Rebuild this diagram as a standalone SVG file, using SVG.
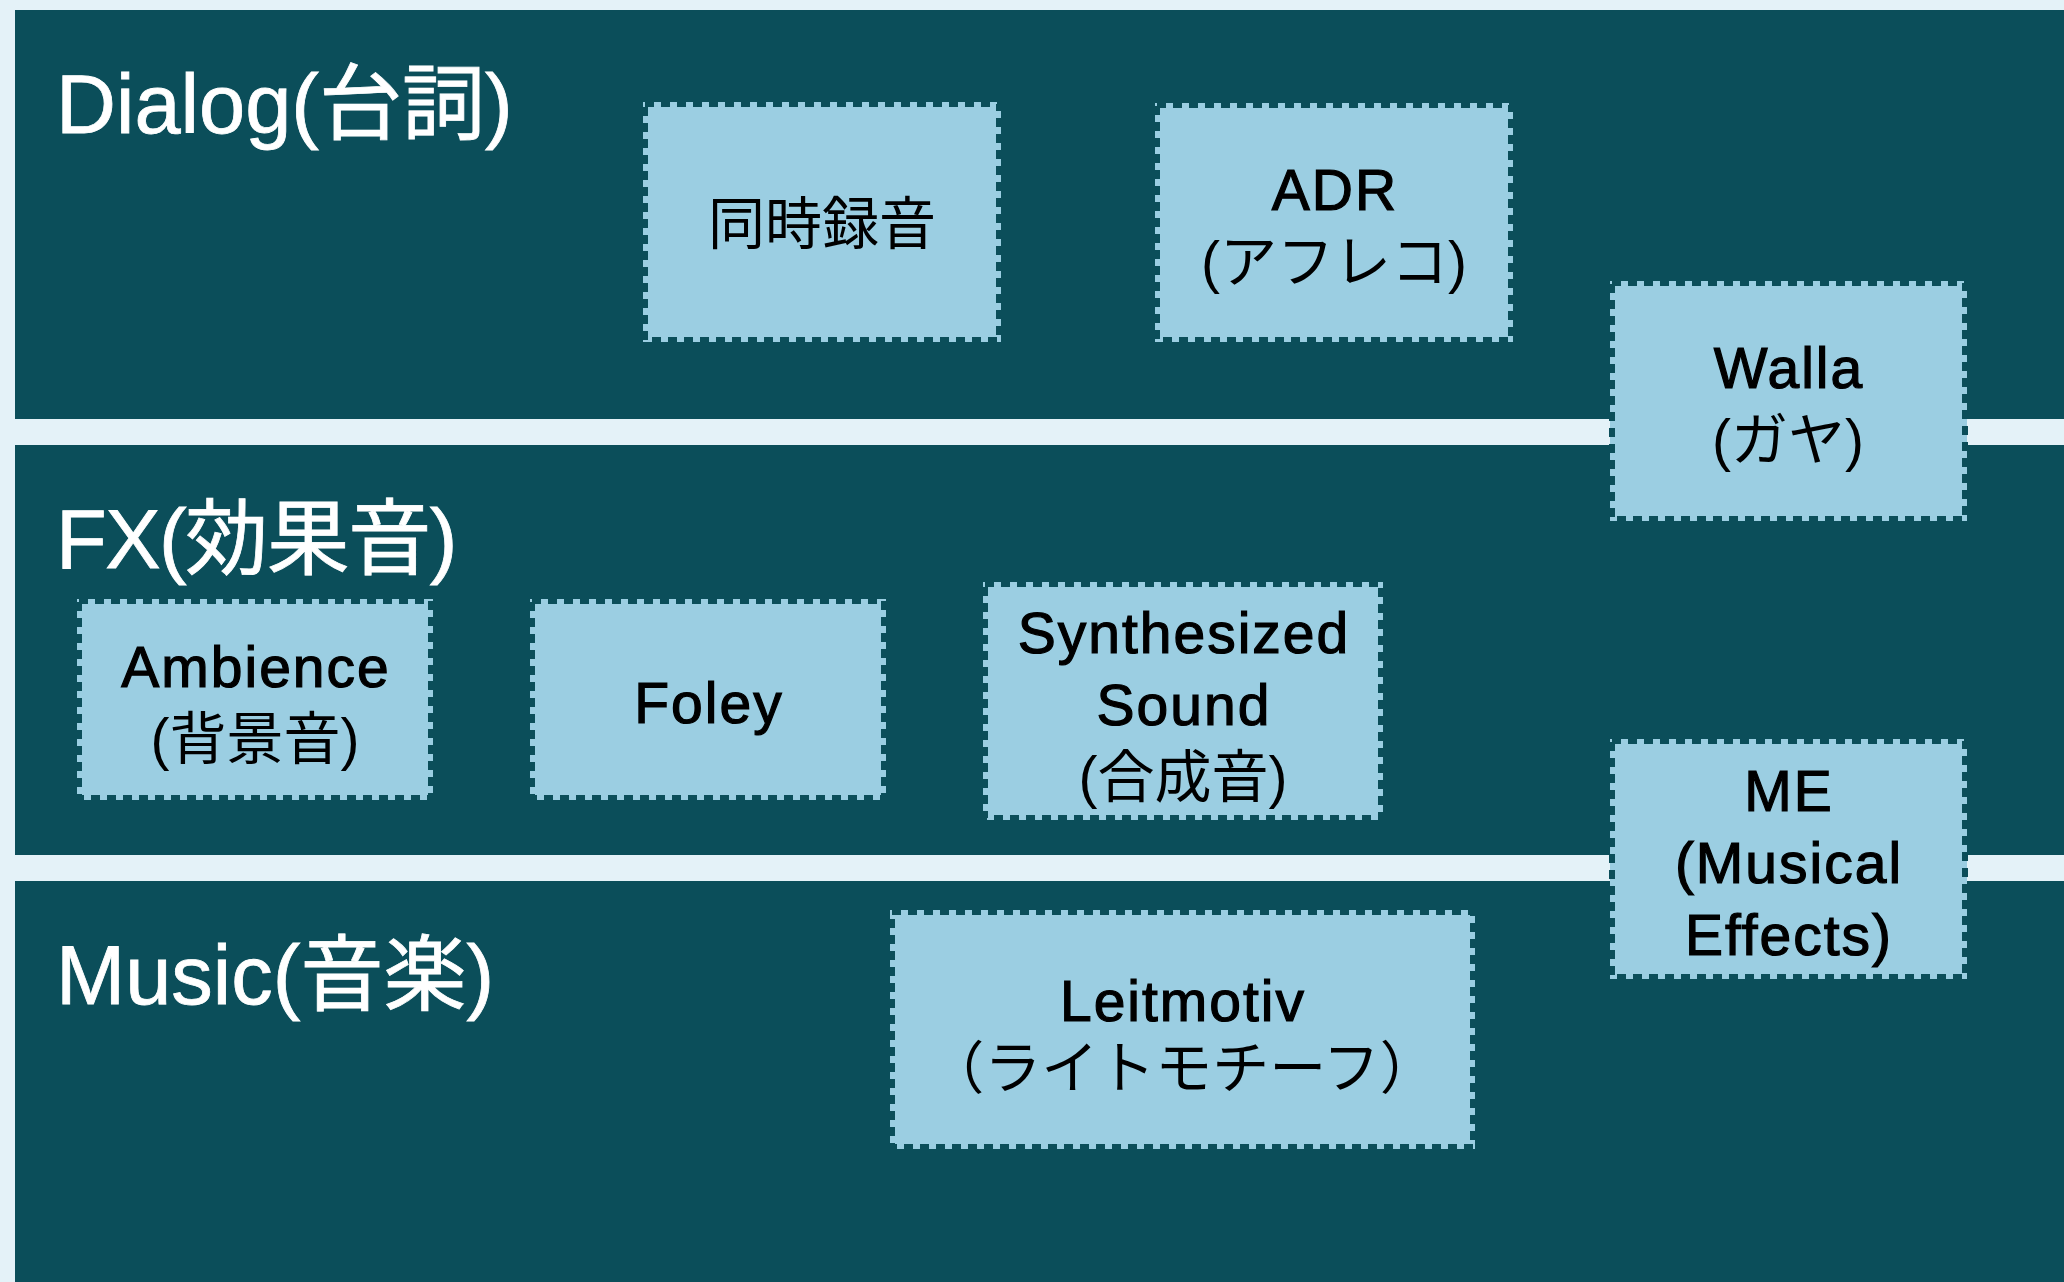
<svg xmlns="http://www.w3.org/2000/svg" width="2064" height="1282" viewBox="0 0 2064 1282">
  <style>
    .band { fill: #0b4e5a; }
    .title { font-family: "Liberation Sans", "Noto Sans CJK JP", sans-serif; font-size: 83px; fill: #ffffff; stroke: #ffffff; stroke-width: 0.8; }
    .fill { fill: #9bcee2; }
    .box { fill: none; stroke: #0b4e5a; stroke-width: 6; stroke-dasharray: 9 7; }
    .label { font-family: "Liberation Sans", "Noto Sans CJK JP", sans-serif; font-size: 57px; fill: #000000; text-anchor: middle; }
    .lat { stroke: #000000; stroke-width: 1.2; letter-spacing: 2px; }
  </style>
  <rect x="0" y="0" width="2064" height="1282" fill="#e4f2f8"/>
  <g id="lane-dialog">
    <rect class="band" x="15" y="10" width="2049" height="409"/>
    <text class="title" x="56" y="133">Dialog(台詞)</text>
  </g>
  <g id="lane-fx">
    <rect class="band" x="15" y="445" width="2049" height="410"/>
    <text class="title" x="56" y="568" letter-spacing="-1.5">FX(効果音)</text>
  </g>
  <g id="lane-music">
    <rect class="band" x="15" y="881" width="2049" height="401"/>
    <text class="title" x="56" y="1004">Music(音楽)</text>
  </g>
  <g id="connectors"></g>
  <g id="node-doujirokuon">
    <rect class="fill" x="643" y="102" width="358" height="240"/>
    <rect class="box" x="645" y="104" width="354" height="236"/>
    <text class="label" x="822" y="244">同時録音</text>
  </g>
  <g id="node-adr">
    <rect class="fill" x="1155" y="103" width="358" height="239"/>
    <rect class="box" x="1157" y="105" width="354" height="235"/>
    <text class="label lat" x="1335" y="210">ADR</text>
    <text class="label" x="1334" y="282">(アフレコ)</text>
  </g>
  <g id="node-walla">
    <rect class="fill" x="1610" y="281" width="357" height="240"/>
    <rect class="box" x="1612" y="283" width="353" height="236"/>
    <text class="label lat" x="1789" y="388">Walla</text>
    <text class="label" x="1788" y="460">(ガヤ)</text>
  </g>
  <g id="node-ambience">
    <rect class="fill" x="77" y="599" width="356" height="201"/>
    <rect class="box" x="79" y="601" width="352" height="197"/>
    <text class="label lat" x="256" y="687">Ambience</text>
    <text class="label" x="255" y="759">(背景音)</text>
  </g>
  <g id="node-foley">
    <rect class="fill" x="530" y="599" width="356" height="201"/>
    <rect class="box" x="532" y="601" width="352" height="197"/>
    <text class="label lat" x="709" y="723">Foley</text>
  </g>
  <g id="node-synth">
    <rect class="fill" x="983" y="582" width="400" height="238"/>
    <rect class="box" x="985" y="584" width="396" height="234"/>
    <text class="label lat" x="1184" y="653">Synthesized</text>
    <text class="label lat" x="1184" y="725">Sound</text>
    <text class="label" x="1183" y="797">(合成音)</text>
  </g>
  <g id="node-me">
    <rect class="fill" x="1610" y="739" width="357" height="240"/>
    <rect class="box" x="1612" y="741" width="353" height="236"/>
    <text class="label lat" x="1789" y="811">ME</text>
    <text class="label lat" x="1789" y="883">(Musical</text>
    <text class="label lat" x="1789" y="955">Effects)</text>
  </g>
  <g id="node-leitmotiv">
    <rect class="fill" x="890" y="910" width="585" height="239"/>
    <rect class="box" x="892" y="912" width="581" height="235"/>
    <text class="label lat" x="1183" y="1021">Leitmotiv</text>
    <text class="label" x="1182" y="1088">（ライトモチーフ）</text>
  </g>
</svg>
